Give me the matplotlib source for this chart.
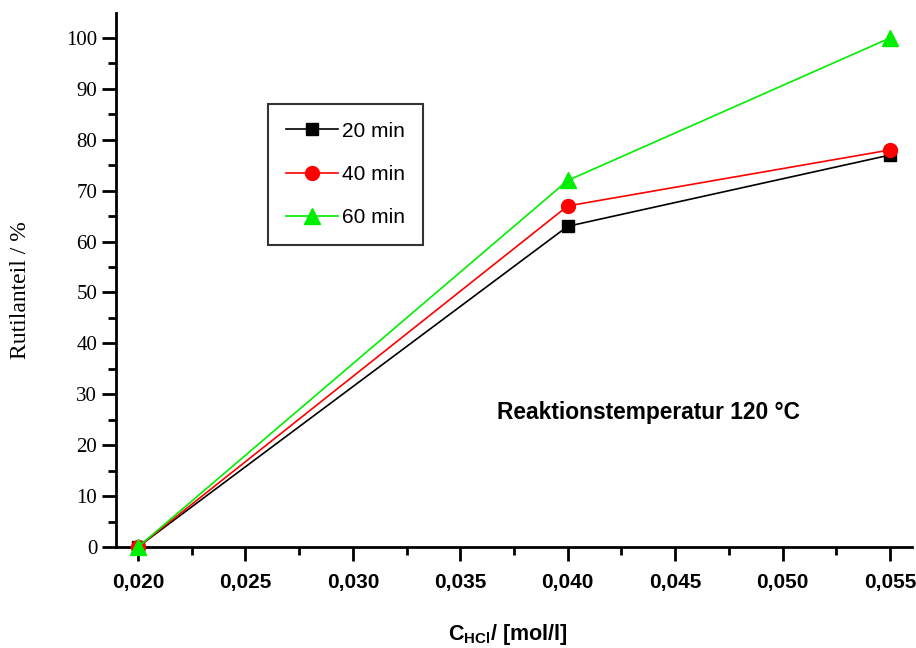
import matplotlib
matplotlib.use("Agg")
import matplotlib.pyplot as plt
from matplotlib.ticker import MultipleLocator, FuncFormatter

# data
c_hcl = [0.020, 0.040, 0.055]
rutil_20 = [0, 63, 77]
rutil_40 = [0, 67, 78]
rutil_60 = [0, 72, 100]

plt.rcParams["mathtext.fontset"] = "custom"
plt.rcParams["mathtext.bf"] = "Liberation Sans:bold"

fig = plt.figure(figsize=(9.16, 6.48), dpi=100)
ax = fig.add_axes([116 / 916, 1 - 547 / 648, 796 / 916, 534 / 648])

ax.plot(c_hcl, rutil_20, color="black", lw=1.2, marker="s", ms=9,
        label="20 min", clip_on=False, zorder=3)
ax.plot(c_hcl, rutil_40, color="red", lw=1.2, marker="o", ms=10,
        label="40 min", clip_on=False, zorder=4)
ax.plot(c_hcl, rutil_60, color="#00ee00", lw=1.2, marker="^", ms=11.5,
        label="60 min", clip_on=False, zorder=5)

ax.set_xlim(0.01898, 0.05602)
ax.set_ylim(0, 104.9)

for side in ["top", "right"]:
    ax.spines[side].set_visible(False)
for side in ["left", "bottom"]:
    ax.spines[side].set_linewidth(2)

ax.xaxis.set_major_locator(MultipleLocator(0.005))
ax.xaxis.set_minor_locator(MultipleLocator(0.0025))
ax.yaxis.set_major_locator(MultipleLocator(10))
ax.yaxis.set_minor_locator(MultipleLocator(5))
ax.xaxis.set_major_formatter(FuncFormatter(lambda v, p: f"{v:.3f}".replace(".", ",")))
ax.tick_params(which="major", length=10, width=2)
ax.tick_params(which="minor", length=6, width=2)
ax.tick_params(axis="x", pad=9)

for lab in ax.get_xticklabels():
    lab.set_family("Liberation Sans")
    lab.set_weight("bold")
    lab.set_fontsize(15)
for lab in ax.get_yticklabels():
    lab.set_family("Liberation Serif")
    lab.set_fontsize(15)

ax.set_ylabel("Rutilanteil / %", family="Liberation Serif", fontsize=17)
ax.yaxis.set_label_coords(-0.107, 0.481)
ax.set_xlabel(r"C$_{\mathbf{HCl}}$/ [mol/l]", family="Liberation Sans",
              fontweight="bold", fontsize=15.5)
ax.xaxis.set_label_coords(0.4925, -0.14)

ax.text(0.04375, 26.5, "Reaktionstemperatur 120 °C", family="Liberation Sans",
        fontweight="bold", fontsize=16.4, ha="center", va="center")

leg = ax.legend(loc="upper left", bbox_to_anchor=(0.191, 0.8296), frameon=True,
                fancybox=False, edgecolor="black", handlelength=2.5,
                prop={"family": "Liberation Sans", "size": 15},
                borderpad=0.85, labelspacing=1.17, handletextpad=0.2,
                borderaxespad=0)
leg.get_frame().set_linewidth(1.5)

fig.savefig("out.png", dpi=100)
